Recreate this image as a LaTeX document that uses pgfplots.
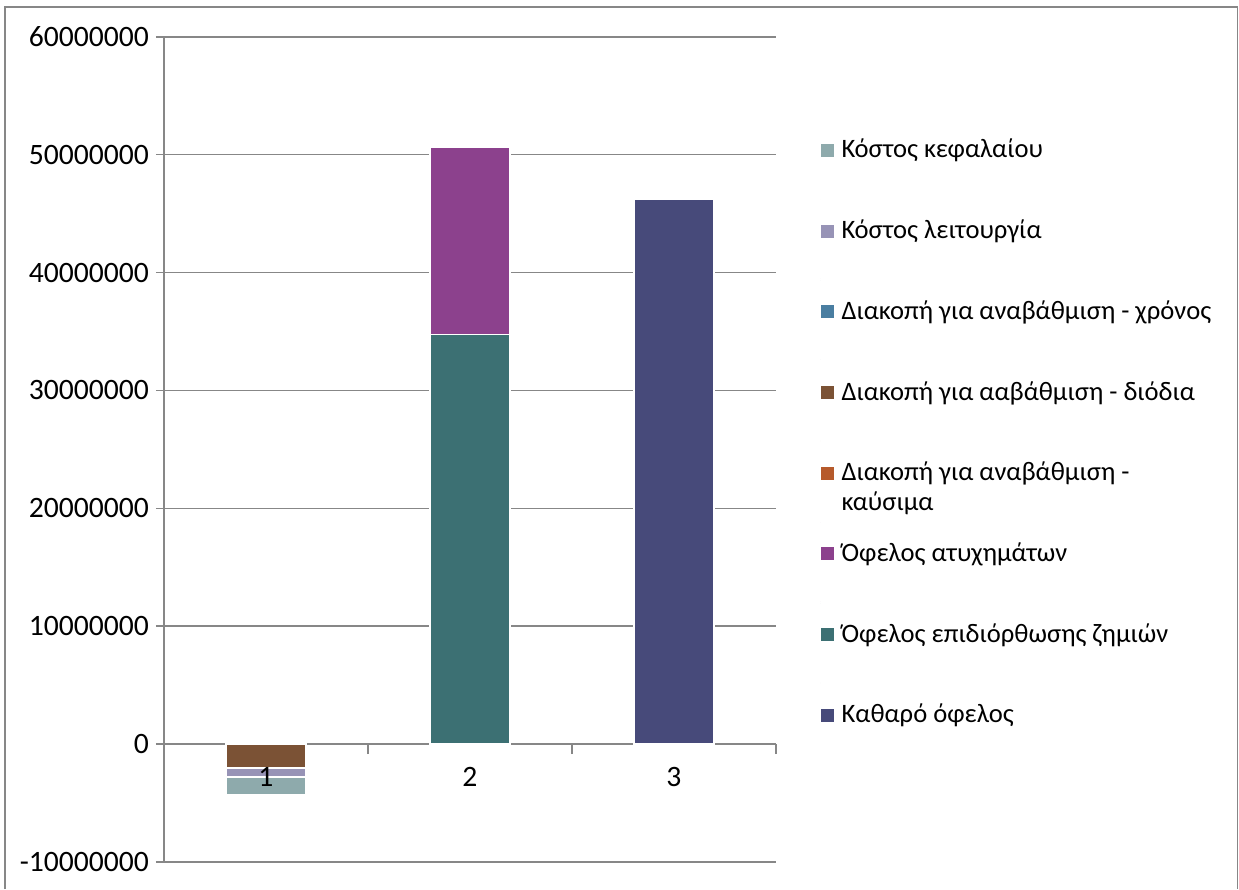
\documentclass[border=0pt]{standalone}
\usepackage{fontspec}
\setmainfont{Carlito}
\usepackage{pgfplots}
\pgfplotsset{compat=1.18}

\definecolor{capcost}{HTML}{8EAAAC}
\definecolor{opcost}{HTML}{9793B6}
\definecolor{timec}{HTML}{4A7EA1}
\definecolor{tolls}{HTML}{7B5235}
\definecolor{fuel}{HTML}{B65A2B}
\definecolor{accid}{HTML}{8C418D}
\definecolor{repair}{HTML}{3C7073}
\definecolor{netben}{HTML}{474A7A}
\definecolor{gridgray}{HTML}{878787}

% like the standard layer set, but tick labels above the bars
\pgfplotsset{
  layers/labelsontop/.define layer set={
    axis background, axis grid, axis ticks, axis lines, pre main, main,
    axis tick labels, axis descriptions, axis foreground}{
    grid style={/pgfplots/on layer=axis grid},
    tick style={/pgfplots/on layer=axis ticks},
    axis line style={/pgfplots/on layer=axis lines},
    label style={/pgfplots/on layer=axis descriptions},
    legend style={/pgfplots/on layer=axis descriptions},
    title style={/pgfplots/on layer=axis descriptions},
    colorbar style={/pgfplots/on layer=axis descriptions},
    tick label style={/pgfplots/on layer=axis tick labels},
    axis background@ style={/pgfplots/on layer=axis background},
    3d box foreground style={/pgfplots/on layer=axis foreground},
  },
}
\newcommand{\tickfont}{\fontsize{14.8}{17}\selectfont}

\begin{document}
\fontsize{13}{15.5}\selectfont
\begin{tikzpicture}[x=1pt,y=1pt]
\path (0,0) rectangle (619.5,-445);
% chart area frame
\draw[gridgray, line width=0.8pt] (2.6,-444.6) -- (2.6,-3.6) -- (618.8,-3.6) -- (618.8,-444.6);
\begin{axis}[
  set layers=labelsontop,
  at={(82pt,-431pt)}, anchor=south west,
  scale only axis, width=306pt, height=412.65pt,
  xmin=0.5, xmax=3.5, ymin=-10000000, ymax=60000000,
  axis x line=middle, axis y line=left,
  axis line style={gridgray, line width=0.8pt, -},
  hide obscured x ticks=false, hide obscured y ticks=false,
  tick align=outside,
  xtick={1,2,3}, xticklabels={1,2,3},
  major x tick style={draw=none},
  minor xtick={0.5,1.5,2.5,3.5},
  minor tick length=5pt, major tick length=4pt,
  minor x tick style={gridgray, line width=0.8pt},
  major y tick style={gridgray, line width=0.8pt},
  xticklabel style={font=\tickfont, text=black, yshift=-3pt},
  ytick={-10000000,0,10000000,20000000,30000000,40000000,50000000,60000000},
  scaled y ticks=false,
  yticklabel style={font=\tickfont, text=black, xshift=1pt,
    /pgf/number format/fixed, /pgf/number format/1000 sep={},
    /pgf/number format/assume math mode=true},
  ymajorgrids, grid style={gridgray, line width=0.8pt},
  ybar stacked, bar width=40pt,
  every axis plot/.append style={draw=white, line width=0.9pt},
  reverse legend,
  legend style={at={(1.0719,0.9013)}, anchor=north west, draw=none, fill=none,
    inner sep=0pt, outer sep=0pt, row sep=0pt, column sep=3.85pt,
    cells={anchor=base west}, font=\fontsize{13.3}{15.5}\selectfont,
    nodes={inner sep=0pt}},
  legend image code/.code={
    \path (0pt,-20pt) rectangle (0pt,19.45pt);
    \fill[#1, draw=none] (0pt,0.5pt) rectangle (6.5pt,7pt);},
]
\addplot[fill=netben] coordinates {(1,0) (2,0) (3,46200000)};
\addplot[fill=repair] coordinates {(1,0) (2,34750000) (3,0)};
\addplot[fill=accid]  coordinates {(1,0) (2,15900000) (3,0)};
\addplot[fill=fuel]   coordinates {(1,0) (2,0) (3,0)};
\addplot[fill=tolls]  coordinates {(1,-2050000) (2,0) (3,0)};
\addplot[fill=timec]  coordinates {(1,0) (2,0) (3,0)};
\addplot[fill=opcost] coordinates {(1,-750000) (2,0) (3,0)};
\addplot[fill=capcost] coordinates {(1,-1500000) (2,0) (3,0)};
\legend{Καθαρό όφελος,
  Όφελος επιδιόρθωσης ζημιών,
  Όφελος ατυχημάτων,
  {\raisebox{0pt}[\ht\strutbox][\dp\strutbox]{\parbox[t]{190pt}{\baselineskip=15pt Διακοπή για αναβάθμιση -\\καύσιμα}}},
  Διακοπή για ααβάθμιση - διόδια,
  Διακοπή για αναβάθμιση - χρόνος,
  Κόστος λειτουργία,
  Κόστος κεφαλαίου}
\end{axis}
\end{tikzpicture}
\end{document}
